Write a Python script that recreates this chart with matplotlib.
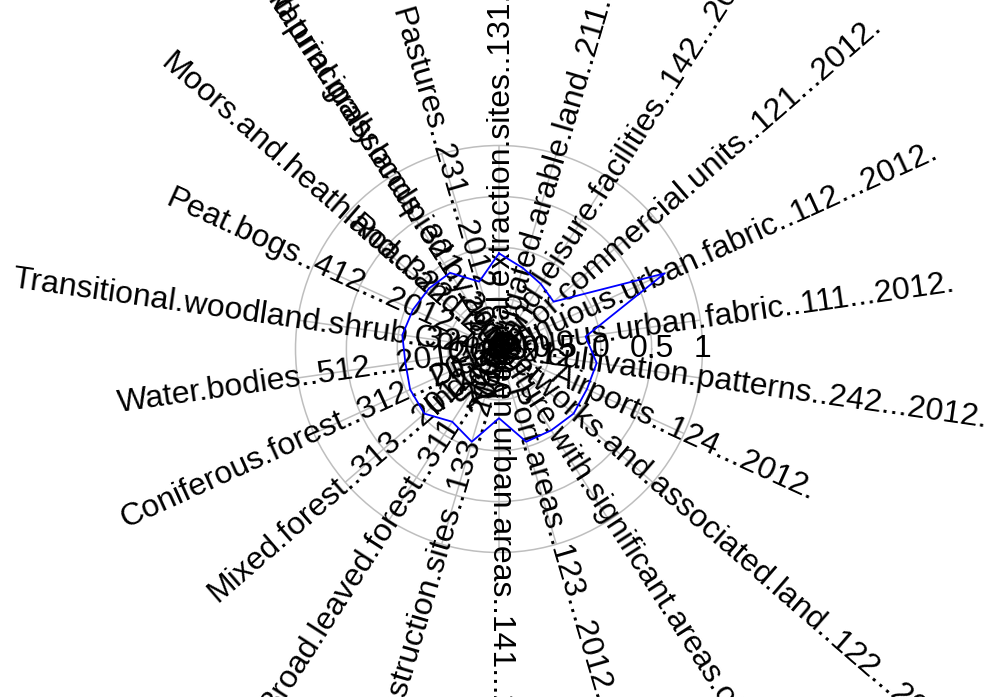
import numpy as np
import matplotlib
matplotlib.use("Agg")
import matplotlib.pyplot as plt

plt.rcParams['font.family'] = ['Liberation Sans', 'DejaVu Sans']

categories = [
    "Mineral.extraction.sites..131...2012.",
    "Pastures..231...2012.",
    "Natural.grasslands..321...2012.",
    "Moors.and.heathland..322...2012.",
    "Peat.bogs..412...2012.",
    "Transitional.woodland.shrub..324...2012.",
    "Water.bodies..512...2012.",
    "Coniferous.forest..312...2012.",
    "Mixed.forest..313...2012.",
    "Broad.leaved.forest..311...2012.",
    "Construction.sites..133...2012.",
    "Green.urban.areas..141...2012.",
    "Port.areas..123...2012.",
    "Land.principally.occupied.by.agriculture.with.significant.areas.of.natural.vegetation..243...2012.",
    "Road.and.rail.networks.and.associated.land..122...2012.",
    "Airports..124...2012.",
    "Complex.cultivation.patterns..242...2012.",
    "Continuous.urban.fabric..111...2012.",
    "Discontinuous.urban.fabric..112...2012.",
    "Industrial.or.commercial.units..121...2012.",
    "Sport.and.leisure.facilities..142...2012.",
    "Non.irrigated.arable.land..211...2012.",
]
values = [-0.06, -0.31, -0.11, -0.09, -0.07, -0.04, -0.07, -0.04, -0.03, -0.15, -0.05,
          -0.32, -0.05, -0.05, -0.03, -0.05, -0.03, -0.14, 0.79, -0.29, -0.24, -0.17]
axis_ticks = [-1, -0.5, 0, 0.5, 1]
axis_tick_labels = ["-1", "-0.5", "0", "0.5", "1"]

W, H = 989, 697
fig = plt.figure(figsize=(W / 100, H / 100), dpi=100)
cx, cy, R = 499, 349, 203.5
ax = fig.add_axes([(cx - R) / W, (H - cy - R) / H, 2 * R / W, 2 * R / H], projection='polar')

n = len(categories)
angles_deg = (90 + np.arange(n) * 360.0 / n) % 360
theta = np.deg2rad(angles_deg)

grid_col = '#BEBEBE'

# data polygon
tt = np.append(theta, theta[0])
vv = np.append(values, values[0])
ax.plot(tt, vv, color='#0000FF', linewidth=1.3, zorder=5)

ax.set_xlim(0, 2 * np.pi)
ax.set_ylim(-1, 1)
ax.set_thetagrids(angles_deg, labels=[''] * n)
ax.set_rgrids([-0.5, 0, 0.5], labels=[''] * 3)
ax.set_ylim(-1, 1)
ax.grid(True, color=grid_col, linewidth=1.1)
ax.spines['polar'].set_color(grid_col)
ax.spines['polar'].set_linewidth(1.1)
ax.set_facecolor('none')

fs = 23
for a, t, lab in zip(angles_deg, theta, categories):
    if 90 < a < 270:
        rot = a - 180
    else:
        rot = a if a <= 90 else a - 360
    ax.text(t, 1.0, lab, rotation=rot, rotation_mode='anchor', ha='center', va='center',
            fontsize=fs, color='black', clip_on=False, zorder=4)

for v, s in zip(axis_ticks, axis_tick_labels):
    ax.text(0, v, s, ha='center', va='center', fontsize=fs, color='black', clip_on=False, zorder=4)

fig.savefig('out.png', dpi=100)
